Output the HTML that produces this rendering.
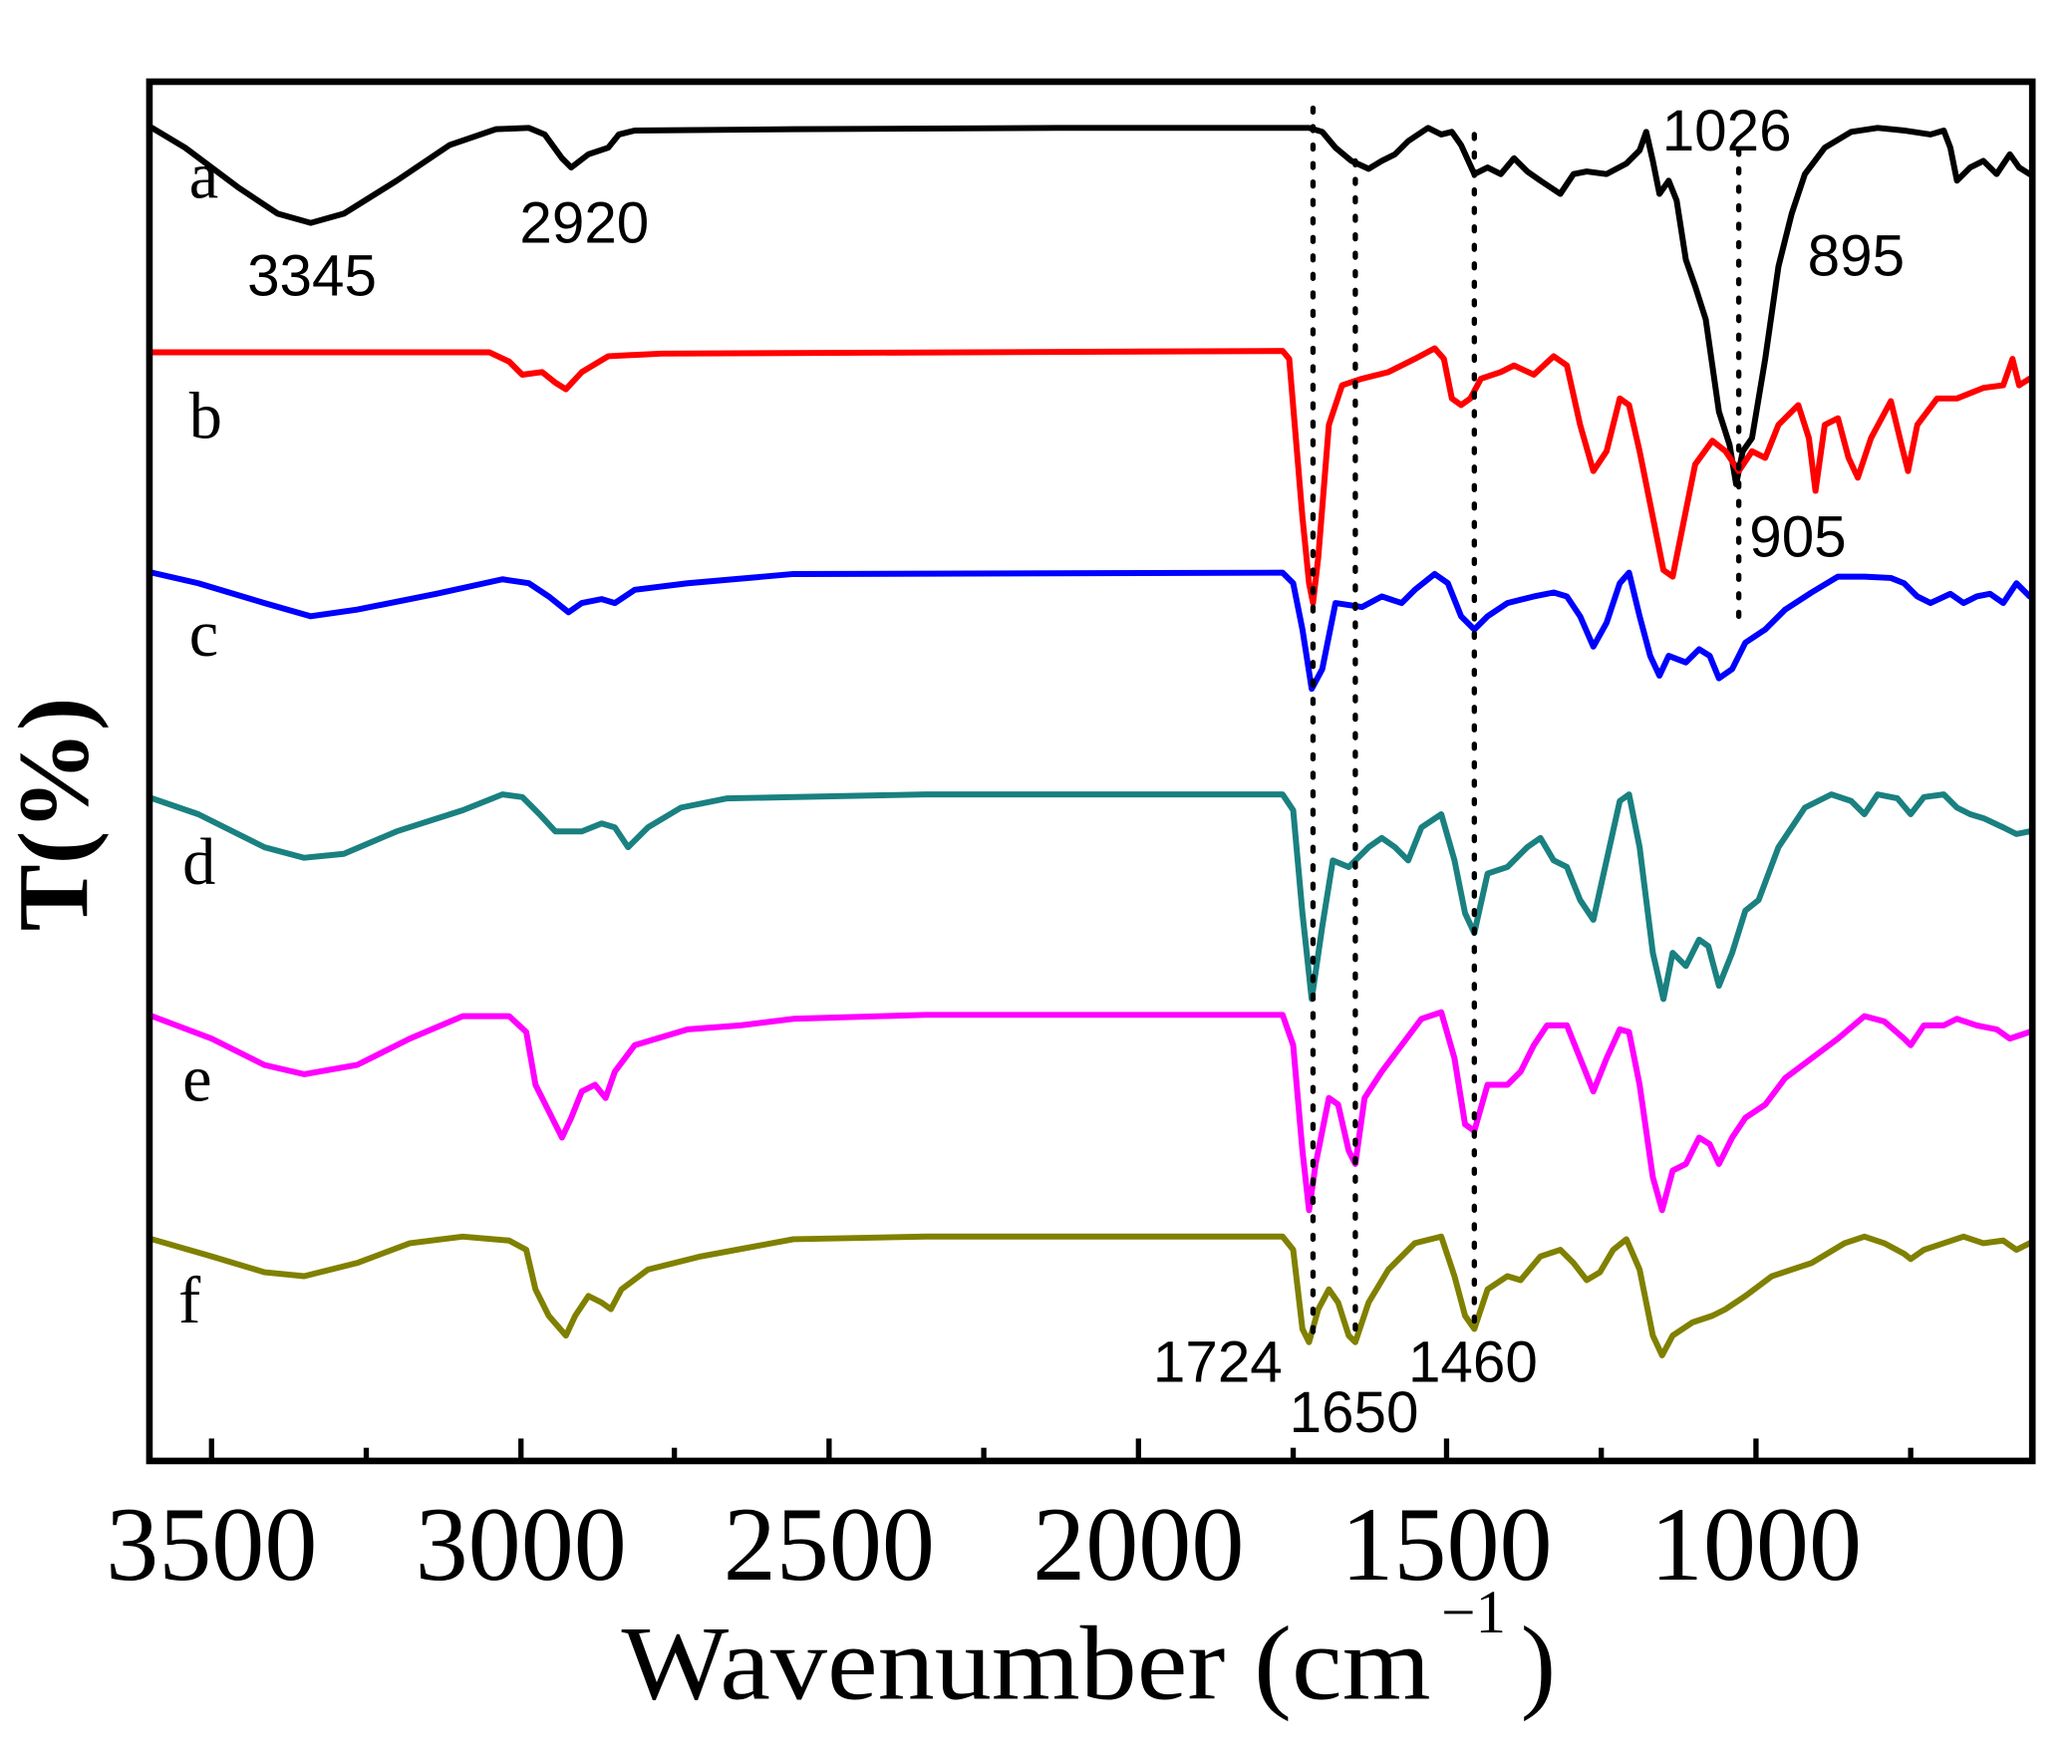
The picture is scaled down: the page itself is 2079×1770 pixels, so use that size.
<!DOCTYPE html>
<html><head><meta charset="utf-8"><style>html,body{margin:0;padding:0;background:#fff}svg{display:block}</style></head>
<body>
<svg width="2079" height="1770" viewBox="0 -1.9 1567 1336.5" preserveAspectRatio="none" xmlns="http://www.w3.org/2000/svg">
<rect x="0" y="-2" width="1567" height="1340" fill="#fff"/>
<g fill="none" stroke-width="4.5" stroke-linejoin="round" stroke-linecap="round">
<polyline stroke="#000" points="115,95 140,110 180,140 210,160 235,167 260,160 300,135 340,108 375,96 400,95 412,100 425,118 432,125 445,115 460,110 468,100 480,97 600,96 800,95 990,95 1000,98 1010,110 1022,120 1035,126 1045,120 1055,115 1065,105 1080,95 1090,100 1098,98 1105,108 1115,130 1125,125 1135,130 1145,118 1155,128 1165,135 1180,145 1190,130 1200,128 1215,130 1230,122 1240,112 1245,98 1250,120 1255,145 1262,135 1268,150 1275,195 1282,215 1290,240 1300,310 1308,335 1313,365 1318,340 1325,330 1335,270 1345,200 1355,160 1365,130 1380,110 1400,98 1420,95 1440,97 1460,100 1470,97 1475,110 1480,135 1490,125 1500,120 1510,130 1520,115 1527,125 1535,130"/>
<polyline stroke="#ff0000" points="115,265 370,265 385,272 395,282 410,280 420,288 428,293 440,280 460,268 500,266 970,264 975,270 980,330 985,390 990,440 993,455 997,420 1005,320 1015,290 1030,285 1050,280 1070,270 1085,262 1092,270 1098,300 1105,305 1112,300 1120,285 1135,280 1145,275 1160,282 1175,268 1185,275 1195,320 1205,355 1215,340 1225,300 1232,305 1240,340 1250,390 1258,430 1265,435 1272,400 1282,350 1295,332 1305,340 1315,355 1325,340 1335,345 1345,320 1360,305 1368,330 1373,370 1380,320 1390,315 1398,345 1405,360 1415,330 1430,302 1438,335 1443,355 1450,320 1465,300 1480,300 1500,292 1515,290 1522,270 1527,290 1535,285"/>
<polyline stroke="#0000ff" points="115,432 150,440 200,455 235,465 270,460 330,448 380,437 400,440 415,450 430,462 440,455 455,452 465,455 480,445 520,440 600,433 970,432 978,440 985,475 992,520 1000,505 1010,455 1030,458 1045,450 1060,455 1070,445 1085,433 1095,440 1105,465 1115,475 1125,465 1140,455 1160,450 1175,447 1185,450 1195,465 1205,488 1215,470 1225,440 1232,432 1240,465 1248,495 1255,510 1262,495 1275,500 1285,490 1293,495 1300,512 1310,505 1320,485 1335,475 1350,460 1370,447 1390,435 1410,435 1430,436 1440,440 1450,450 1460,455 1475,448 1485,455 1495,450 1505,448 1515,455 1525,440 1535,450"/>
<polyline stroke="#1a8080" points="115,603 150,615 200,640 230,648 260,645 300,628 350,612 380,600 395,602 408,615 420,628 440,628 455,622 465,625 475,640 490,625 515,610 550,603 700,600 970,600 978,612 985,690 992,755 1000,700 1008,650 1020,655 1035,640 1045,633 1055,640 1065,650 1075,625 1090,615 1100,650 1108,690 1115,705 1125,660 1140,655 1155,640 1165,633 1175,650 1185,655 1195,680 1205,695 1215,650 1225,605 1232,600 1240,640 1250,720 1258,755 1265,720 1275,730 1285,710 1292,715 1300,745 1310,720 1320,688 1330,680 1345,640 1365,610 1385,600 1400,605 1410,615 1420,600 1435,603 1445,615 1455,602 1470,600 1480,610 1490,615 1500,618 1515,625 1525,630 1535,628"/>
<polyline stroke="#ff00ff" points="115,768 160,785 200,805 230,812 270,805 310,785 350,768 385,768 398,780 405,820 415,840 425,860 432,845 440,825 450,820 458,830 465,810 480,790 520,778 560,775 600,770 700,767 970,767 978,790 985,870 990,915 995,880 1005,830 1012,835 1020,870 1025,880 1032,830 1045,810 1060,790 1075,770 1090,765 1100,800 1108,850 1115,855 1125,820 1140,820 1150,810 1160,790 1170,775 1185,775 1195,800 1205,825 1215,800 1225,778 1232,780 1240,820 1250,890 1257,915 1265,885 1275,880 1285,860 1293,865 1300,880 1310,860 1320,845 1335,835 1350,815 1370,800 1390,785 1410,768 1425,772 1440,785 1445,790 1455,775 1470,775 1480,770 1495,775 1510,778 1520,785 1535,780"/>
<polyline stroke="#808000" points="115,937 160,950 200,962 230,965 270,955 310,940 350,935 385,938 398,945 405,975 415,995 428,1010 435,995 445,980 455,985 462,990 470,975 490,960 530,950 600,937 700,935 970,935 978,945 985,1005 990,1015 997,990 1005,975 1012,985 1020,1010 1025,1015 1035,985 1050,960 1070,940 1090,935 1100,965 1108,995 1115,1005 1125,975 1140,965 1150,968 1165,950 1180,945 1190,955 1200,968 1210,962 1220,945 1230,937 1240,960 1250,1010 1257,1025 1265,1010 1280,1000 1295,995 1305,990 1320,980 1340,965 1370,955 1395,940 1410,935 1425,940 1440,948 1445,952 1455,945 1470,940 1485,935 1500,940 1515,938 1525,945 1535,940"/>
</g>
<g stroke="#000" stroke-width="4" stroke-dasharray="3,11" stroke-linecap="round" fill="none">
<line x1="993" y1="80" x2="993" y2="1012"/>
<line x1="1025" y1="120" x2="1025" y2="1012"/>
<line x1="1115" y1="100" x2="1115" y2="1002"/>
<line x1="1315" y1="112" x2="1315" y2="470"/>
</g>
<rect x="113" y="60" width="1424" height="1045" fill="none" stroke="#000" stroke-width="5"/>
<g stroke="#000" stroke-width="4">
<line x1="160" y1="1105" x2="160" y2="1088"/><line x1="394" y1="1105" x2="394" y2="1088"/><line x1="627" y1="1105" x2="627" y2="1088"/><line x1="861" y1="1105" x2="861" y2="1088"/><line x1="1094" y1="1105" x2="1094" y2="1088"/><line x1="1328" y1="1105" x2="1328" y2="1088"/>
<line x1="277" y1="1105" x2="277" y2="1095"/><line x1="510" y1="1105" x2="510" y2="1095"/><line x1="744" y1="1105" x2="744" y2="1095"/><line x1="978" y1="1105" x2="978" y2="1095"/><line x1="1211" y1="1105" x2="1211" y2="1095"/><line x1="1445" y1="1105" x2="1445" y2="1095"/>
</g>
<g font-family="Liberation Serif, serif" font-size="80" text-anchor="middle" fill="#000">
<text x="160" y="1195">3500</text><text x="394" y="1195">3000</text><text x="627" y="1195">2500</text><text x="861" y="1195">2000</text><text x="1094" y="1195">1500</text><text x="1328" y="1195">1000</text>
</g>
<text x="470" y="1285" font-family="Liberation Serif, serif" font-size="80" fill="#000" textLength="612" lengthAdjust="spacingAndGlyphs">Wavenumber (cm</text>
<text x="1090" y="1235" font-family="Liberation Serif, serif" font-size="46" fill="#000">−1</text>
<text x="1150" y="1285" font-family="Liberation Serif, serif" font-size="80" fill="#000">)</text>
<text transform="translate(66,615) rotate(-90)" text-anchor="middle" font-family="Liberation Serif, serif" font-weight="bold" font-size="76" fill="#000">T(%)</text>
<g font-family="Liberation Serif, serif" font-size="50" fill="#000">
<text x="143" y="148">a</text><text x="143" y="330">b</text><text x="143" y="495">c</text><text x="138" y="668">d</text><text x="138" y="832">e</text><text x="135" y="1000">f</text>
</g>
<g font-family="Liberation Sans, sans-serif" font-size="44" fill="#000">
<text x="187" y="222">3345</text><text x="393" y="182">2920</text><text x="1257" y="112">1026</text><text x="1367" y="207">895</text><text x="1323" y="420">905</text><text x="872" y="1045">1724</text><text x="975" y="1083">1650</text><text x="1065" y="1045">1460</text>
</g>
</svg>
</body></html>
